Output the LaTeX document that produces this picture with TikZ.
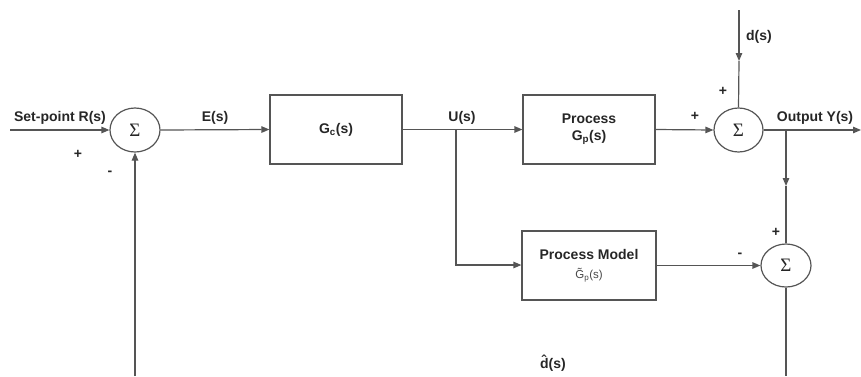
\documentclass[tikz,border=0pt]{standalone}
\usepackage{fontspec}
\setmainfont{Liberation Sans}
\newfontfamily\sigmafont{Liberation Serif}
\usetikzlibrary{arrows.meta,shapes.geometric}

\definecolor{wire}{HTML}{555555}
\definecolor{ink}{HTML}{262626}
\newcommand\modelfont{\fontsize{11.5}{12}\selectfont\mdseries\color{ink!85}}

\begin{document}
\begin{tikzpicture}[x=1pt,y=-1pt,
  wire/.style={draw=wire,line width=1.2pt},
  arr/.style={wire,-{Triangle[length=8pt,width=6.5pt]}},
  blk/.style={draw=wire,line width=1.2pt,rectangle,inner sep=0pt,font=\fontsize{14}{17}\selectfont\bfseries,text=ink,align=center},
  summer/.style={draw=wire,line width=1.2pt,ellipse,inner sep=0pt,minimum width=50pt,minimum height=44pt,font=\sigmafont\fontsize{19}{19}\selectfont,text=ink},
  lbl/.style={inner sep=0pt,text=ink,font=\fontsize{14}{17}\selectfont\bfseries},
  sgn/.style={inner sep=0pt,text=ink,font=\fontsize{14}{14}\selectfont\bfseries}]

\useasboundingbox (0,0) rectangle (861,376);

% blocks and summing junctions
\node[summer] (s1) at (135,130) {Σ};
\node[blk,minimum width=132pt,minimum height=69pt] (gc) at (336,129.5) {G\textsubscript{c}(s)};
\node[blk,minimum width=132pt,minimum height=69pt] (proc) at (589,129.5) {Process\\G\textsubscript{p}(s)};
\node[summer,minimum width=49pt] (s2) at (738.5,130) {Σ};
\node[blk,minimum width=134pt,minimum height=69pt,font=\fontsize{14}{19}\selectfont\bfseries] (model) at (589,265.5) {Process Model\\{\modelfont G̃\textsubscript{p}(s)}};
\node[summer,minimum height=43pt] (s3) at (786,265.5) {Σ};

% free ends and branch points
\coordinate (rin) at (10,130);
\coordinate (ub) at (456,130);
\coordinate (uc) at (456,265);
\coordinate (din) at (739,10);
\coordinate (dmid) at (739,61);
\coordinate (yb) at (786,130);
\coordinate (yout) at (861,130);
\coordinate (ymid) at (786,186);
\coordinate (fb1) at (135,376);
\coordinate (fb3) at (786,376);

% signal lines
\draw[arr] (rin) -- (s1.west);
\draw[arr] (s1.east) -- (gc.west);
\draw[arr] (gc.east) -- (proc.west);
\draw[arr] (ub) -- (uc) -- (model.west |- uc);
\draw[arr] (proc.east) -- (s2.west);
\draw[arr] (din) -- (dmid);
\draw[wire] (dmid) -- (s2.north);
\draw[arr] (s2.east) -- (yout);
\draw[arr] (yb) -- (ymid);
\draw[wire] (ymid) -- (s3.north);
\draw[arr] (model.east) -- (s3.west);
\draw[wire] (s3.south) -- (fb3);
\draw[arr] (fb1) -- (s1.south);

% signal labels
\node[lbl] (rl) at (60,118) {Set-point R(s)};
\node[lbl] (el) at (215,118) {E(s)};
\node[lbl] (ul) at (462,118) {U(s)};
\node[lbl] (dl) at (759,37) {d(s)};
\node[lbl] (yl) at (815,118) {Output Y(s)};
\node[lbl] (dh) at (553,363) {d̂(s)};

% signs at the junctions
\node[sgn] (p1) at (78,154) {+};
\node[sgn] (m1) at (110,173) {-};
\node[sgn] (p2) at (695,116) {+};
\node[sgn] (p3) at (723,91) {+};
\node[sgn] (m3) at (740,255) {-};
\node[sgn] (p4) at (776,232) {+};
\end{tikzpicture}
\end{document}
